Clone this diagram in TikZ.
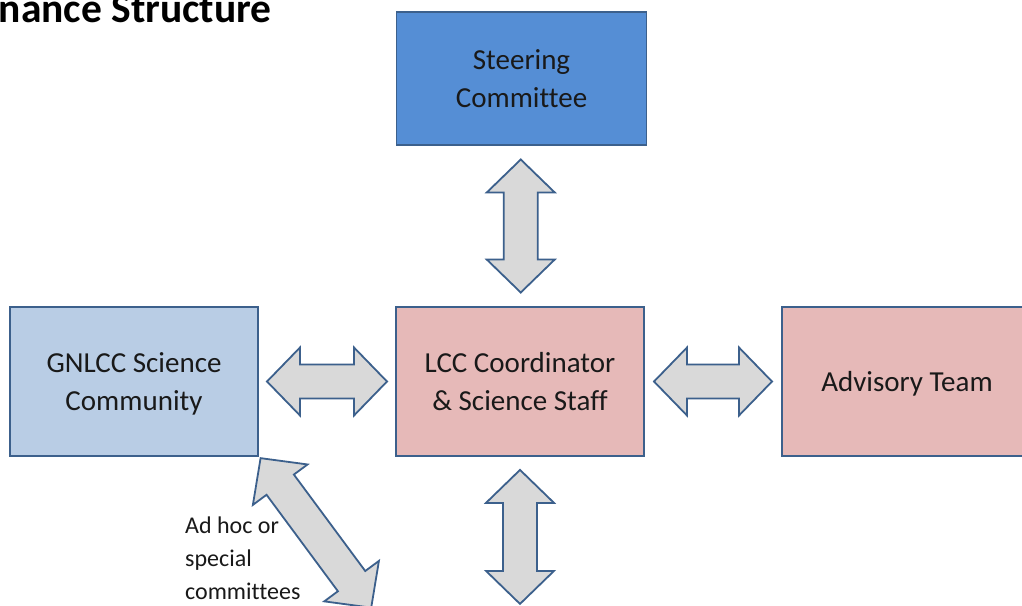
\documentclass[tikz,border=0pt]{standalone}
\usepackage{fontspec}
\setmainfont{Carlito}[Ligatures=NoCommon]
\usetikzlibrary{calc}
\definecolor{stfill}{RGB}{85,142,213}
\definecolor{gnfill}{RGB}{185,205,229}
\definecolor{pkfill}{RGB}{230,185,184}
\definecolor{bdcol}{RGB}{60,96,140}
\definecolor{arfill}{RGB}{217,217,217}
\definecolor{txcol}{RGB}{25,25,25}
\newcommand\blockarr[3]{%
  \draw[blockarrow, shift={(#1)}, rotate=#2]
    (-#3,0) -- (-#3+33,-34) -- (-#3+33,-17) -- (#3-33,-17) -- (#3-33,-34) -- (#3,0)
    -- (#3-33,34) -- (#3-33,17) -- (-#3+33,17) -- (-#3+33,34) -- cycle;}
\begin{document}
\begin{tikzpicture}[x=1pt,y=-1pt,
  box/.style={draw=bdcol, line width=1.8pt, align=center, text=txcol,
    font=\fontsize{29}{38}\selectfont, inner sep=0pt, text depth=0pt},
  blockarrow/.style={draw=bdcol, fill=arfill, line width=1.8pt, line join=miter}]
\useasboundingbox (0,0) rectangle (1022,605);
\clip (0,0) rectangle (1022,605);
\fill[white] (0,0) rectangle (1022,605);
% title
\node[anchor=base east, inner sep=0pt, font=\fontsize{41.5}{48}\selectfont\bfseries, text=black] (title) at (272,22) {nance Structure};
% boxes
\node[box, fill=stfill, minimum width=250pt, minimum height=133pt] (steer) at (521.5,78.5) {Steering\\Committee};
\node[box, fill=gnfill, minimum width=248pt, minimum height=149pt] (gn) at (134,381.5) {GNLCC Science\\Community};
\node[box, fill=pkfill, minimum width=248pt, minimum height=149pt] (lcc) at (520,381.5) {LCC Coordinator\\\& Science Staff};
\node[box, fill=pkfill, minimum width=250pt, minimum height=149pt] (adv) at (907,381.5) {Advisory Team};
% label
\node[anchor=north west, align=left, inner sep=0pt, text=txcol, font=\fontsize{24}{33}\selectfont] (adhoc) at (185,517) {Ad hoc or\\special\\committees};
% arrow positions
\coordinate (aTop) at ($(steer.south)!0.5!(lcc.north)$);
\coordinate (aLeft) at ($(gn.east)!0.5!(lcc.west)$);
\coordinate (aRight) at ($(lcc.east)!0.5!(adv.west)$);
\coordinate (aBot) at ($(lcc.south)+(0,80)$);
\coordinate (aDiag) at ($(gn.south east)+(57,76)$);
\blockarr{aTop}{90}{66.5}
\blockarr{aLeft}{0}{60}
\blockarr{aRight}{0}{59}
\blockarr{aBot}{90}{67}
\blockarr{aDiag}{-53.5}{93}
\end{tikzpicture}
\end{document}
